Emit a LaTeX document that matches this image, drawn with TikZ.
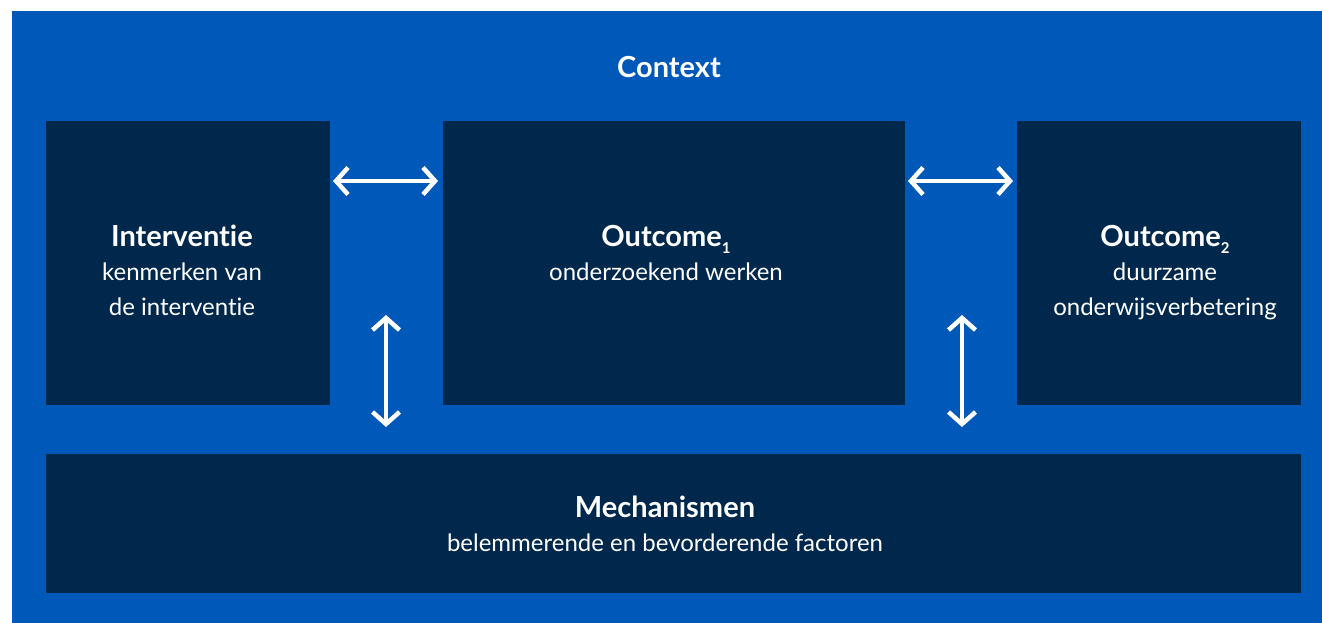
\documentclass[tikz,border=0pt]{standalone}
\usepackage{fontspec}
\setmainfont{Lato}[Ligatures=NoCommon]
\usetikzlibrary{arrows.meta}
\definecolor{ctxblue}{HTML}{0058B9}
\definecolor{navy}{HTML}{00284C}
\newcommand{\lowsub}[1]{\raisebox{-7pt}{\fontsize{15}{15}\selectfont #1}}
\begin{document}
\begin{tikzpicture}[x=1pt,y=-1pt,
  box/.style={fill=navy,draw=none,anchor=north west,inner sep=0pt},
  ttl/.style={text=white,font=\fontsize{29}{30}\selectfont\bfseries,inner sep=0pt,anchor=base},
  sub/.style={text=white,font=\fontsize{24}{35}\selectfont,align=center,inner sep=0pt,anchor=base},
  tip/.style={Straight Barb[length=12pt,width=27pt,line width=4.5pt]},
  arr/.style={white,line width=4pt,{Straight Barb[length=12pt,width=27pt,line width=4.5pt]}-{Straight Barb[length=12pt,width=27pt,line width=4.5pt]}}]
\useasboundingbox (0,0) rectangle (1322,623);
\fill[white] (0,0) rectangle (1322,623);
\fill[ctxblue] (12,11) rectangle (1322,623);
\node[ttl] (ctx) at (669,78) {Context};
\node[box,minimum width=284pt,minimum height=284pt] (int) at (46,121) {};
\node[box,minimum width=462pt,minimum height=284pt] (out1) at (443,121) {};
\node[box,minimum width=284pt,minimum height=284pt] (out2) at (1017,121) {};
\node[box,minimum width=1255pt,minimum height=139pt] (mech) at (46,454) {};
\node[ttl] (intT) at (182,246) {Interventie};
\node[sub] (intS) at (182,315) {kenmerken van\\de interventie};
\node[ttl] (o1T) at (666,246) {Outcome\lowsub{1}};
\node[sub] (o1S) at (666,280) {onderzoekend werken};
\node[ttl] (o2T) at (1165,246) {Outcome\lowsub{2}};
\node[sub] (o2S) at (1165,315) {duurzame\\onderwijsverbetering};
\node[ttl] (mT) at (665,517) {Mechanismen};
\node[sub] (mS) at (665,551) {belemmerende en bevorderende factoren};
\coordinate (h1a) at (333,181); \coordinate (h1b) at (438,181);
\coordinate (h2a) at (908,181); \coordinate (h2b) at (1013,181);
\coordinate (v1a) at (386,315); \coordinate (v1b) at (386,427);
\coordinate (v2a) at (962,315); \coordinate (v2b) at (962,427);
\draw[arr] (h1a) -- (h1b);
\draw[arr] (h2a) -- (h2b);
\draw[arr] (v1a) -- (v1b);
\draw[arr] (v2a) -- (v2b);
\end{tikzpicture}
\end{document}
